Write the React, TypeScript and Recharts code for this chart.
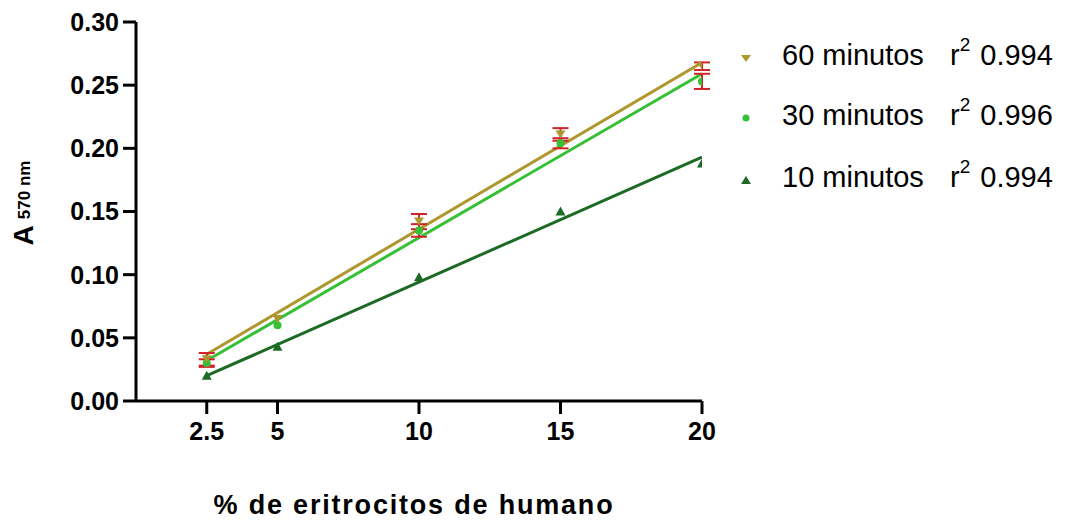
import React from 'react';
import {
  ComposedChart,
  Line,
  Scatter,
  ErrorBar,
  XAxis,
  YAxis,
} from 'recharts';

// % eritrocitos (x) and absorbance readings per incubation time
const X_VALUES = [2.5, 5, 10, 15, 20];
const X_TICKS = [2.5, 5, 10, 15, 20];
const Y_TICKS = [0, 0.05, 0.1, 0.15, 0.2, 0.25, 0.3];

const A60 = [0.033, 0.065, 0.142, 0.211, 0.265];
const E60 = [0.005, null, 0.006, 0.005, 0.003];
const A30 = [0.03, 0.06, 0.135, 0.204, 0.253];
const E30 = [0.003, null, 0.005, 0.004, 0.006];
const A10 = [0.02, 0.043, 0.098, 0.15, 0.188];

// regression line end points
const FIT_X = [2.5, 20];
const FIT60 = [0.037, 0.268];
const FIT30 = [0.032, 0.259];
const FIT10 = [0.02, 0.193];

const SERIES_NAMES = ['60 minutos', '30 minutos', '10 minutos'];
const R2_VALUES = ['0.994', '0.996', '0.994'];

const C60 = '#ad972e';
const C30 = '#35c035';
const C10 = '#1d6a26';
const ERR = '#d0242a';
const FONT = '"Liberation Sans", Arial, sans-serif';

const toPoints = (ys: number[], errs?: (number | null)[]) =>
  X_VALUES.map((x, i) => ({ x, y: ys[i], err: errs ? errs[i] : null }));

const toFit = (ys: number[]) => FIT_X.map((x, i) => ({ x, y: ys[i] }));

const DownTriangle = (props: any) => {
  const { cx, cy } = props;
  return (
    <polygon
      points={`${cx - 5},${cy - 4} ${cx + 5},${cy - 4} ${cx},${cy + 4}`}
      fill={C60}
    />
  );
};

const UpTriangle = (props: any) => {
  const { cx, cy } = props;
  return (
    <polygon
      points={`${cx - 5},${cy + 4} ${cx + 5},${cy + 4} ${cx},${cy - 5}`}
      fill={C10}
    />
  );
};

const Dot = (props: any) => {
  const { cx, cy } = props;
  return <circle cx={cx} cy={cy} r={4} fill={C30} />;
};

const tickStyle = { fill: '#000', fontSize: 25, fontWeight: 700, fontFamily: FONT };

export default function App() {
  const legendColors = [C60, C30, C10];
  return (
    <div style={{ position: 'absolute', left: 0, top: 0, width: 1070, height: 522, background: '#fff' }}>
      <ComposedChart
        width={1070}
        height={522}
        margin={{ top: 22, right: 368, left: 0, bottom: 0 }}
      >
        <XAxis
          type="number"
          dataKey="x"
          domain={[0, 20]}
          ticks={X_TICKS}
          allowDataOverflow
          axisLine={{ stroke: '#000', strokeWidth: 3 }}
          tickLine={{ stroke: '#000', strokeWidth: 3 }}
          tickSize={13}
          tickMargin={8}
          tick={tickStyle}
          height={121}
          label={{
            content: () => (
              <text
                x={414}
                y={514}
                textAnchor="middle"
                fontFamily={FONT}
                fontWeight={700}
                fontSize={27}
                letterSpacing={1.8}
                fill="#000"
              >
                % de eritrocitos de humano
              </text>
            ),
          }}
        />
        <YAxis
          type="number"
          dataKey="y"
          domain={[0, 0.3]}
          ticks={Y_TICKS}
          allowDataOverflow
          tickFormatter={(v: number) => v.toFixed(2)}
          axisLine={{ stroke: '#000', strokeWidth: 3 }}
          tickLine={{ stroke: '#000', strokeWidth: 3 }}
          tickSize={13}
          tickMargin={4}
          tick={tickStyle}
          width={136}
          label={{
            content: () => (
              <text
                transform="translate(33,203) rotate(-90)"
                textAnchor="middle"
                fontFamily={FONT}
                fontWeight={700}
                fill="#000"
              >
                <tspan fontSize={28}>A</tspan>
                <tspan fontSize={17} dx={6} dy={-3}>570 nm</tspan>
              </text>
            ),
          }}
        />

        <Line data={toFit(FIT10)} dataKey="y" type="linear" stroke={C10} strokeWidth={3} dot={false} isAnimationActive={false} />
        <Line data={toFit(FIT30)} dataKey="y" type="linear" stroke={C30} strokeWidth={3} dot={false} isAnimationActive={false} />
        <Line data={toFit(FIT60)} dataKey="y" type="linear" stroke={C60} strokeWidth={3} dot={false} isAnimationActive={false} />

        <Scatter data={toPoints(A10)} dataKey="y" shape={UpTriangle} isAnimationActive={false} />
        <Scatter data={toPoints(A30, E30)} dataKey="y" shape={Dot} isAnimationActive={false}>
          <ErrorBar dataKey="err" direction="y" width={8} stroke={ERR} strokeWidth={2} />
        </Scatter>
        <Scatter data={toPoints(A60, E60)} dataKey="y" shape={DownTriangle} isAnimationActive={false}>
          <ErrorBar dataKey="err" direction="y" width={8} stroke={ERR} strokeWidth={2} />
        </Scatter>
      </ComposedChart>

      <svg
        width={1070}
        height={522}
        style={{ position: 'absolute', left: 0, top: 0, pointerEvents: 'none' }}
      >
        {SERIES_NAMES.map((name, i) => {
          const base = [65, 125, 187][i];
          const cy = base - 7;
          const color = legendColors[i];
          return (
            <g key={name}>
              {i === 0 && (
                <polygon points={`741,${cy - 3} 751,${cy - 3} 746,${cy + 4}`} fill={color} />
              )}
              {i === 1 && <circle cx={746} cy={cy} r={3.5} fill={color} />}
              {i === 2 && (
                <polygon points={`741,${cy + 4} 751,${cy + 4} 746,${cy - 4}`} fill={color} />
              )}
              <text x={782} y={base} fontFamily={FONT} fontSize={29} fill="#000">
                {name}
              </text>
              <text x={950} y={base} fontFamily={FONT} fontSize={29} fill="#000">
                r
                <tspan fontSize={19} dy={-14}>2</tspan>
                <tspan dx={10} dy={14}>{R2_VALUES[i]}</tspan>
              </text>
            </g>
          );
        })}
      </svg>
    </div>
  );
}
